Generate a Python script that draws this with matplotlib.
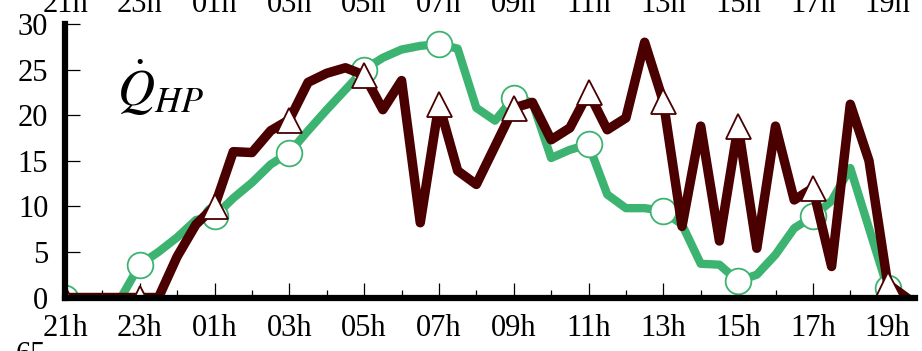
import matplotlib
matplotlib.use("Agg")
import matplotlib.pyplot as plt
import matplotlib.transforms as mtransforms
import numpy as np

plt.rcParams['font.family'] = ['Liberation Serif', 'DejaVu Serif']
plt.rcParams['mathtext.fontset'] = 'stix'

# half-hourly samples starting at 21h
hours = np.arange(46) * 0.5

q_green = [0, 0, 0, 0, 3.6, 5.0, 6.6, 8.5, 8.9, 10.9, 12.6, 14.6, 15.9, 18.3,
           20.6, 22.8, 25.0, 26.3, 27.2, 27.6, 27.8, 27.3, 20.8, 19.4, 21.9,
           21.4, 15.3, 16.2, 16.8, 11.3, 9.8, 9.8, 9.5, 8.0, 3.7, 3.6, 1.8,
           2.5, 4.7, 7.6, 8.9, 10.6, 14.2, 7.6, 1.0, 0]

q_maroon = [0, 0, 0, 0, 0, 0, 4.5, 8.0, 10.0, 16.0, 15.9, 18.3, 19.5, 23.6,
            24.6, 25.2, 24.4, 20.6, 23.8, 8.2, 21.2, 13.9, 12.4, 16.6, 20.8,
            21.4, 17.3, 18.6, 22.5, 18.4, 19.7, 28.0, 21.5, 7.8, 18.8, 6.2,
            18.8, 5.4, 18.8, 10.7, 12.0, 3.4, 21.2, 15.0, 1.5, 0]

tick_pos = np.arange(0, 23, 2)
tick_labels = ['21h', '23h', '01h', '03h', '05h', '07h', '09h', '11h',
               '13h', '15h', '17h', '19h']
yticks = [0, 5, 10, 15, 20, 25, 30]

green = '#3cb371'
maroon = '#4a0000'

fig = plt.figure(figsize=(9.22, 3.51), dpi=100)
ax = fig.add_axes([0.0705, 0.1524, 0.9219, 0.7792])

ax.plot(hours, q_green, color=green, lw=6, marker='o', markevery=4,
        markersize=18.5, markerfacecolor='white', markeredgecolor=green,
        markeredgewidth=1.3, zorder=2)
ax.plot(hours, q_maroon, color=maroon, lw=6.8, marker='^', markevery=4,
        markersize=18, markerfacecolor='white', markeredgecolor=maroon,
        markeredgewidth=1.3, zorder=3)

ax.set_xlim(0, 22.73)
ax.set_ylim(0, 30)
ax.set_xticks(tick_pos)
ax.set_xticklabels(tick_labels)
ax.set_xticks(np.arange(1, 23, 2), minor=True)
ax.set_yticks(yticks)
ax.set_yticklabels([str(v) for v in yticks])

for s in ['top', 'right']:
    ax.spines[s].set_visible(False)
for s in ['left', 'bottom']:
    ax.spines[s].set_linewidth(4.5)
    ax.spines[s].set_zorder(4)

ax.tick_params(which='major', direction='in', length=11, width=0.9,
               labelsize=22, pad=12)
ax.tick_params(which='minor', direction='in', length=6, width=0.9)

ax.text(0.061, 0.70, r'$\dot{Q}_{HP}$', transform=ax.transAxes,
        fontsize=37, va='baseline', ha='left')

# bits of the neighbouring panels cut by the crop
trans = mtransforms.blended_transform_factory(ax.transData, fig.transFigure)
for p, lab in zip(tick_pos, tick_labels):
    fig.text(p, 0.966, lab, transform=trans, ha='center', va='baseline',
             fontsize=22)
fig.text(0.05, -0.034, '65', ha='right', va='baseline', fontsize=22)

fig.savefig('out.png', dpi=100)
